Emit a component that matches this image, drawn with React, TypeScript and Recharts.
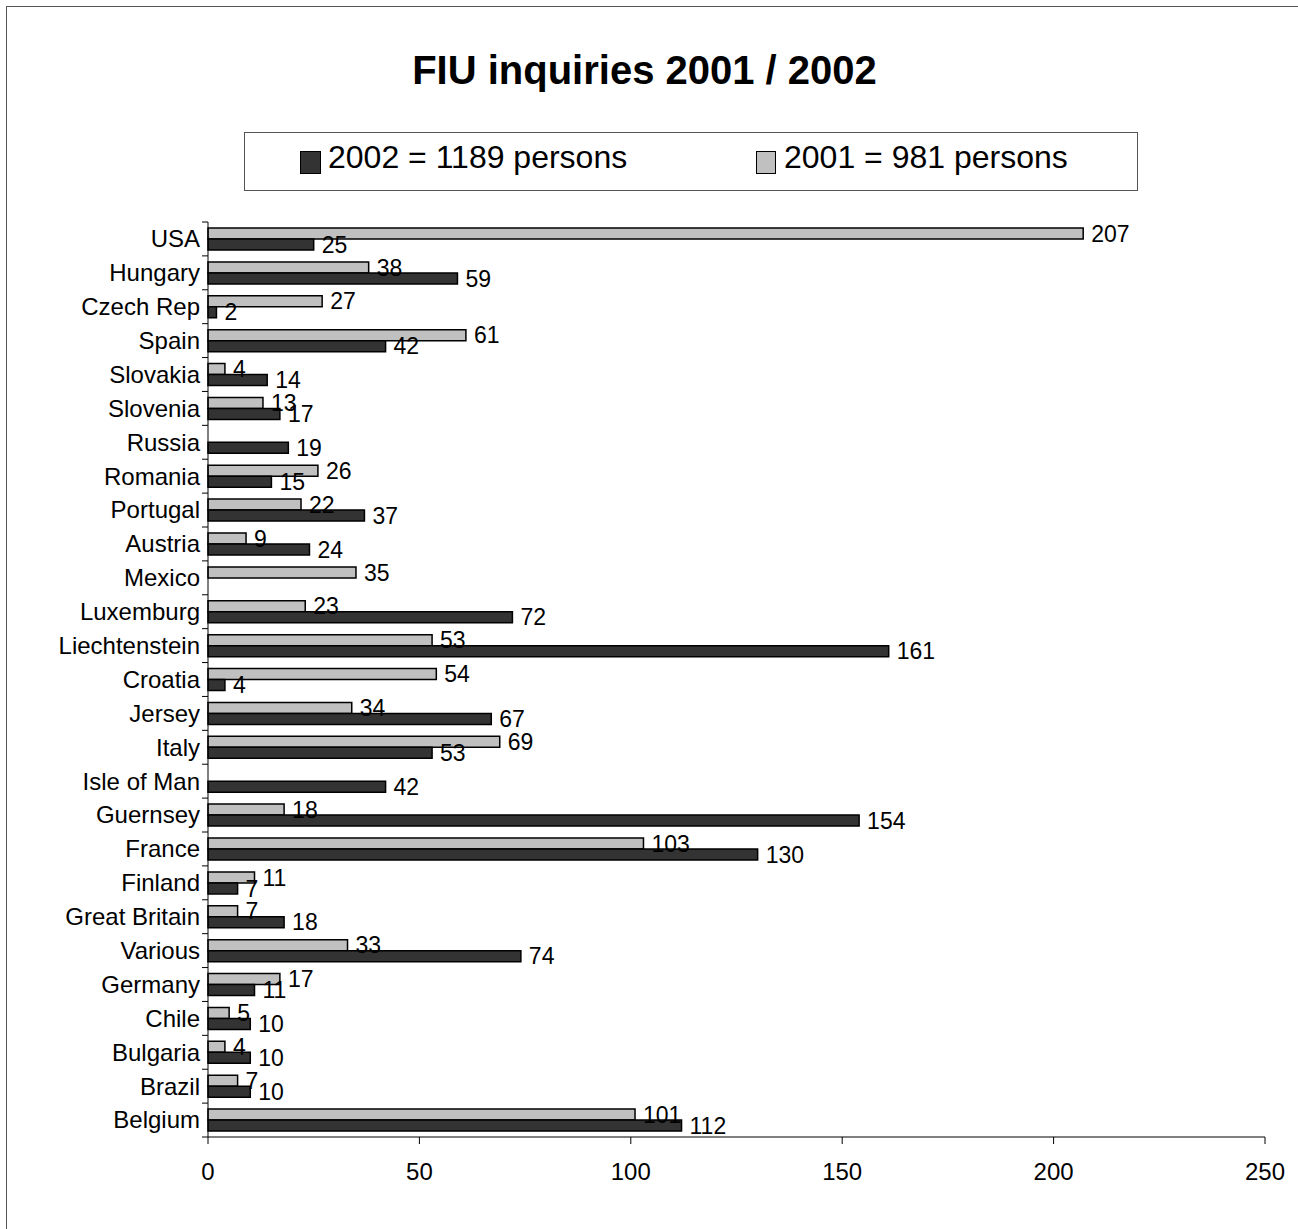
import React from 'react';
import { BarChart, Bar, XAxis, YAxis, LabelList } from 'recharts';

const countries = [
  'USA', 'Hungary', 'Czech Rep', 'Spain', 'Slovakia', 'Slovenia', 'Russia', 'Romania', 'Portugal',
  'Austria', 'Mexico', 'Luxemburg', 'Liechtenstein', 'Croatia', 'Jersey', 'Italy', 'Isle of Man',
  'Guernsey', 'France', 'Finland', 'Great Britain', 'Various', 'Germany', 'Chile', 'Bulgaria',
  'Brazil', 'Belgium',
];

const persons2001 = [
  207, 38, 27, 61, 4, 13, null, 26, 22, 9, 35, 23, 53, 54, 34, 69, null, 18, 103, 11, 7, 33, 17, 5, 4, 7, 101,
];

const persons2002 = [
  25, 59, 2, 42, 14, 17, 19, 15, 37, 24, null, 72, 161, 4, 67, 53, 42, 154, 130, 7, 18, 74, 11, 10, 10, 10, 112,
];

const xTicks = [0, 50, 100, 150, 200, 250];

const legendLabels = ['2002 = 1189 persons', '2001 = 981 persons'];

const FONT = '"Liberation Sans", Arial, Helvetica, sans-serif';
const LIGHT = '#c0c0c0';
const DARK = '#333333';

const data = countries.map((country, i) => ({
  country,
  y2001: persons2001[i],
  y2002: persons2002[i],
}));

// y axis: label in the middle of the band, tick marks on the band edges (like Excel)
const CountryTick = (props: any) => {
  const { x, y, payload, index } = props;
  const half = payload && payload.offset ? payload.offset : 17;
  const axisX = x + 8;
  return (
    <g>
      <line x1={axisX - 6} x2={axisX} y1={y - half} y2={y - half} stroke="#000" />
      {index === countries.length - 1 && (
        <line x1={axisX - 6} x2={axisX} y1={y + half} y2={y + half} stroke="#000" />
      )}
      <text x={x} y={y} dy="0.35em" textAnchor="end" fontSize={24} fill="#000" fontFamily={FONT}>
        {payload.value}
      </text>
    </g>
  );
};

export default function App() {
  return (
    <div style={{ position: 'absolute', left: 0, top: 0, width: 1298, height: 1229, background: '#fff', fontFamily: FONT }}>
      <div style={{ position: 'absolute', left: 6, top: 6, width: 1310, height: 1240, border: '1px solid #555' }} />

      <div style={{ position: 'absolute', left: 0, top: 50, width: 1289, textAlign: 'center', fontSize: 40, lineHeight: '40px', fontWeight: 'bold', color: '#000' }}>
        FIU inquiries 2001 / 2002
      </div>

      <div style={{ position: 'absolute', left: 244, top: 132, width: 892, height: 57, border: '1px solid #555' }} />
      <div style={{ position: 'absolute', left: 300, top: 151, width: 19, height: 21, background: DARK, border: '1px solid #000' }} />
      <div style={{ position: 'absolute', left: 328, top: 141, fontSize: 32, lineHeight: '32px', color: '#000', whiteSpace: 'nowrap' }}>
        {legendLabels[0]}
      </div>
      <div style={{ position: 'absolute', left: 756, top: 151, width: 18, height: 21, background: LIGHT, border: '1px solid #000' }} />
      <div style={{ position: 'absolute', left: 784, top: 141, fontSize: 32, lineHeight: '32px', color: '#000', whiteSpace: 'nowrap' }}>
        {legendLabels[1]}
      </div>

      <div style={{ position: 'absolute', left: 0, top: 0 }}>
        <BarChart
          width={1298}
          height={1229}
          data={data}
          layout="vertical"
          margin={{ top: 222, right: 33, bottom: 32, left: 8 }}
          barGap={0}
          barSize={11}
        >
          <XAxis
            type="number"
            domain={[0, 250]}
            ticks={xTicks}
            interval={0}
            height={60}
            axisLine={{ stroke: '#000' }}
            tickLine={{ stroke: '#000' }}
            tickSize={7}
            tickMargin={19}
            tick={{ fontSize: 24, fill: '#000', fontFamily: FONT }}
          />
          <YAxis
            type="category"
            dataKey="country"
            width={200}
            interval={0}
            axisLine={{ stroke: '#000' }}
            tickLine={false}
            tickSize={6}
            tickMargin={2}
            tick={<CountryTick />}
          />
          <Bar dataKey="y2001" name="2001" fill={LIGHT} stroke="#000" strokeWidth={1.5} isAnimationActive={false}>
            <LabelList dataKey="y2001" position="right" offset={8} fontSize={23} fill="#000" fontFamily={FONT} />
          </Bar>
          <Bar dataKey="y2002" name="2002" fill={DARK} stroke="#000" strokeWidth={1.5} isAnimationActive={false}>
            <LabelList dataKey="y2002" position="right" offset={8} fontSize={23} fill="#000" fontFamily={FONT} />
          </Bar>
        </BarChart>
      </div>
    </div>
  );
}
